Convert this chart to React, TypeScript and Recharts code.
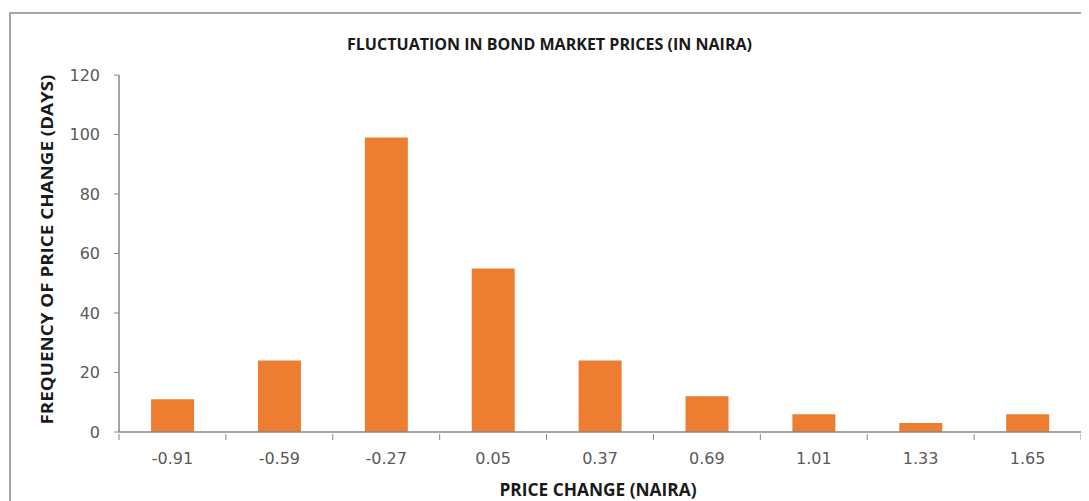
import React from "react";
import { BarChart, Bar, XAxis, YAxis } from "recharts";

const categories = ["-0.91", "-0.59", "-0.27", "0.05", "0.37", "0.69", "1.01", "1.33", "1.65"];
const frequencies = [11, 24, 99, 55, 24, 12, 6, 3, 6];
const yTicks = [0, 20, 40, 60, 80, 100, 120];

const data = categories.map((c, i) => ({ change: c, freq: frequencies[i] }));

const AXIS = "#868686";
const TEXT = "#595959";
const FONT = "'DejaVu Sans', Verdana, sans-serif";
const BOLD = "'Open Sans', 'Liberation Sans', Arial, sans-serif";

const XTick = (props: any) => {
  const { x, y, payload, index } = props;
  const half = payload && payload.offset ? payload.offset : 53.4;
  return (
    <g>
      <line x1={x - half} x2={x - half} y1={y - 6} y2={y} stroke={AXIS} strokeWidth={1} />
      {index === categories.length - 1 && (
        <line x1={x + half} x2={x + half} y1={y - 6} y2={y} stroke={AXIS} strokeWidth={1} />
      )}
      <text x={x} y={y + 24} textAnchor="middle" fontFamily={FONT} fontSize={16} fill={TEXT}>
        {payload.value}
      </text>
    </g>
  );
};

export default function App() {
  return (
    <div style={{ position: "relative", width: 1081, height: 493, background: "#fff", overflow: "hidden" }}>
      <div
        style={{
          position: "absolute",
          left: 1,
          top: 4,
          width: 1200,
          height: 600,
          border: "2px solid #a6a6a6",
          boxSizing: "border-box",
        }}
      />
      <svg style={{ position: "absolute", left: 0, top: 0 }} width={1081} height={60}>
        <text
          x={541.5}
          y={42}
          textAnchor="middle"
          fontFamily={BOLD}
          fontWeight="bold"
          fontSize={16}
          fill="#1a1a1a"
          textLength={405}
          lengthAdjust="spacingAndGlyphs"
        >
          FLUCTUATION IN BOND MARKET PRICES (IN NAIRA)
        </text>
      </svg>
      <div style={{ position: "absolute", left: 0, top: 0 }}>
        <BarChart
          width={1081}
          height={493}
          data={data}
          margin={{ top: 67, right: 8, left: 0, bottom: 0 }}
          barCategoryGap="30%"
        >
          <XAxis
            dataKey="change"
            height={69}
            axisLine={{ stroke: AXIS, strokeWidth: 1.5 }}
            tickLine={false}
            interval={0}
            tick={<XTick />}
            label={{
              content: (p: any) => {
                const vb = p.viewBox || { x: 111, y: 424, width: 962, height: 69 };
                return (
                  <text
                    x={vb.x + vb.width / 2 - 2}
                    y={vb.y + 64}
                    textAnchor="middle"
                    fontFamily={BOLD}
                    fontWeight="bold"
                    fontSize={17}
                    fill="#1a1a1a"
                    textLength={197}
                    lengthAdjust="spacingAndGlyphs"
                  >
                    PRICE CHANGE (NAIRA)
                  </text>
                );
              },
            }}
          />
          <YAxis
            width={111}
            domain={[0, 120]}
            ticks={yTicks}
            interval={0}
            axisLine={{ stroke: AXIS, strokeWidth: 1.5 }}
            tickLine={{ stroke: AXIS }}
            tickSize={5}
            tickMargin={14}
            tick={{ fontFamily: FONT, fontSize: 16, fill: TEXT }}
            label={{
              content: (p: any) => {
                const vb = p.viewBox || { x: 0, y: 67, width: 111, height: 357 };
                const cx = vb.x + 39;
                const cy = vb.y + vb.height / 2 - 4;
                return (
                  <text
                    x={cx}
                    y={cy}
                    transform={`rotate(-90 ${cx} ${cy})`}
                    textAnchor="middle"
                    dominantBaseline="central"
                    fontFamily={BOLD}
                    fontWeight="bold"
                    fontSize={16}
                    fill="#1a1a1a"
                    textLength={350}
                    lengthAdjust="spacingAndGlyphs"
                  >
                    FREQUENCY OF PRICE CHANGE  (DAYS)
                  </text>
                );
              },
            }}
          />
          <Bar dataKey="freq" fill="#ED7D31" isAnimationActive={false} />
        </BarChart>
      </div>
    </div>
  );
}
